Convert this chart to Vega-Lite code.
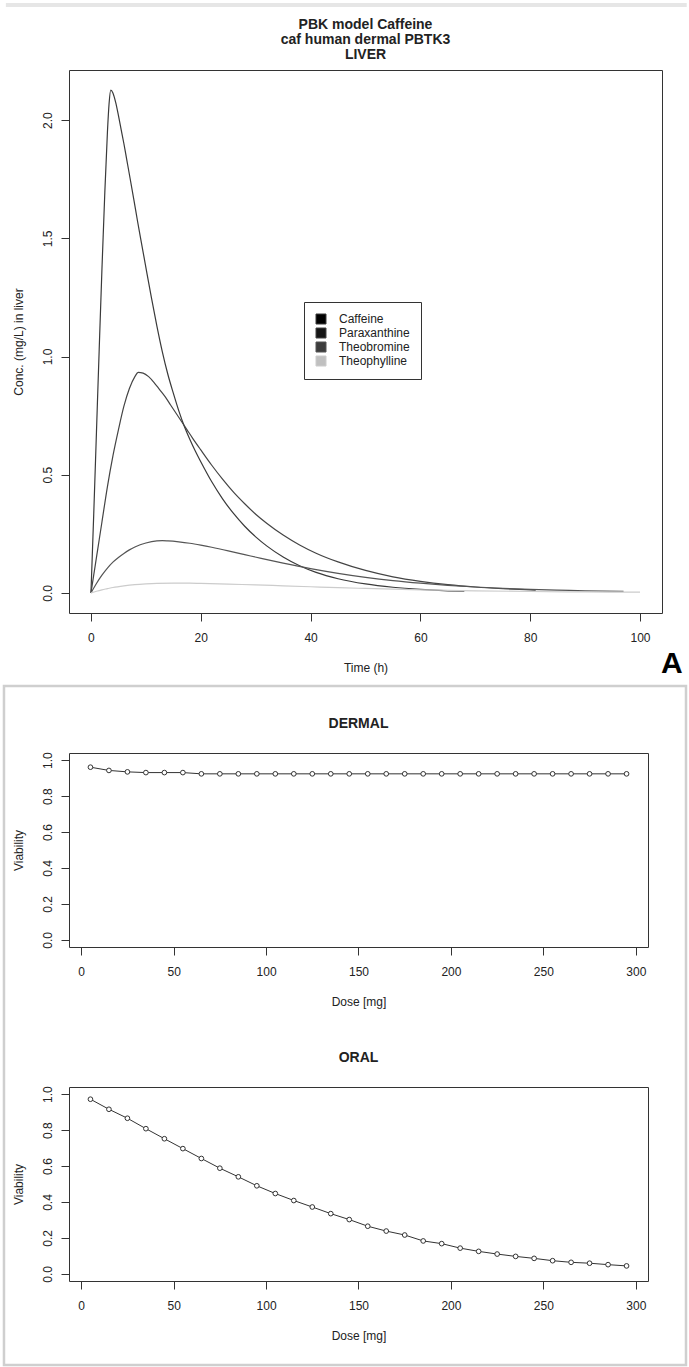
{
  "$schema": "https://vega.github.io/schema/vega-lite/v6.json",
  "padding": {"left": 2, "top": 2, "right": 0, "bottom": 0},
  "background": "white",
  "datasets": {
    "pbk": [
      {"t": 0, "c": 0, "compound": "Caffeine"},
      {"t": 0.5, "c": 0.33, "compound": "Caffeine"},
      {"t": 1, "c": 0.68, "compound": "Caffeine"},
      {"t": 1.5, "c": 1.03, "compound": "Caffeine"},
      {"t": 2, "c": 1.37, "compound": "Caffeine"},
      {"t": 2.5, "c": 1.68, "compound": "Caffeine"},
      {"t": 3, "c": 1.95, "compound": "Caffeine"},
      {"t": 3.3, "c": 2.07, "compound": "Caffeine"},
      {"t": 3.6, "c": 2.127, "compound": "Caffeine"},
      {"t": 4, "c": 2.115, "compound": "Caffeine"},
      {"t": 4.5, "c": 2.075, "compound": "Caffeine"},
      {"t": 5, "c": 2.02, "compound": "Caffeine"},
      {"t": 5.5, "c": 1.96, "compound": "Caffeine"},
      {"t": 6, "c": 1.9, "compound": "Caffeine"},
      {"t": 6.5, "c": 1.835, "compound": "Caffeine"},
      {"t": 7, "c": 1.77, "compound": "Caffeine"},
      {"t": 7.8, "c": 1.665, "compound": "Caffeine"},
      {"t": 8.5, "c": 1.57, "compound": "Caffeine"},
      {"t": 9, "c": 1.505, "compound": "Caffeine"},
      {"t": 9.9, "c": 1.39, "compound": "Caffeine"},
      {"t": 11, "c": 1.25, "compound": "Caffeine"},
      {"t": 12, "c": 1.13, "compound": "Caffeine"},
      {"t": 13, "c": 1.02, "compound": "Caffeine"},
      {"t": 14, "c": 0.925, "compound": "Caffeine"},
      {"t": 15, "c": 0.845, "compound": "Caffeine"},
      {"t": 16, "c": 0.77, "compound": "Caffeine"},
      {"t": 17, "c": 0.705, "compound": "Caffeine"},
      {"t": 18, "c": 0.65, "compound": "Caffeine"},
      {"t": 19, "c": 0.6, "compound": "Caffeine"},
      {"t": 20, "c": 0.555, "compound": "Caffeine"},
      {"t": 22, "c": 0.47, "compound": "Caffeine"},
      {"t": 24, "c": 0.397, "compound": "Caffeine"},
      {"t": 26, "c": 0.335, "compound": "Caffeine"},
      {"t": 28, "c": 0.282, "compound": "Caffeine"},
      {"t": 30, "c": 0.237, "compound": "Caffeine"},
      {"t": 32, "c": 0.199, "compound": "Caffeine"},
      {"t": 35, "c": 0.152, "compound": "Caffeine"},
      {"t": 38, "c": 0.115, "compound": "Caffeine"},
      {"t": 41, "c": 0.087, "compound": "Caffeine"},
      {"t": 45, "c": 0.06, "compound": "Caffeine"},
      {"t": 50, "c": 0.038, "compound": "Caffeine"},
      {"t": 55, "c": 0.024, "compound": "Caffeine"},
      {"t": 60, "c": 0.015, "compound": "Caffeine"},
      {"t": 65, "c": 0.009, "compound": "Caffeine"},
      {"t": 68, "c": 0.007, "compound": "Caffeine"},
      {"t": 0, "c": 0, "compound": "Paraxanthine"},
      {"t": 0.5, "c": 0.075, "compound": "Paraxanthine"},
      {"t": 1, "c": 0.15, "compound": "Paraxanthine"},
      {"t": 1.5, "c": 0.225, "compound": "Paraxanthine"},
      {"t": 2, "c": 0.3, "compound": "Paraxanthine"},
      {"t": 3, "c": 0.45, "compound": "Paraxanthine"},
      {"t": 4, "c": 0.58, "compound": "Paraxanthine"},
      {"t": 5, "c": 0.69, "compound": "Paraxanthine"},
      {"t": 6, "c": 0.79, "compound": "Paraxanthine"},
      {"t": 7, "c": 0.865, "compound": "Paraxanthine"},
      {"t": 8, "c": 0.915, "compound": "Paraxanthine"},
      {"t": 8.6, "c": 0.933, "compound": "Paraxanthine"},
      {"t": 9.5, "c": 0.93, "compound": "Paraxanthine"},
      {"t": 10.5, "c": 0.915, "compound": "Paraxanthine"},
      {"t": 11.5, "c": 0.89, "compound": "Paraxanthine"},
      {"t": 12.5, "c": 0.86, "compound": "Paraxanthine"},
      {"t": 13.5, "c": 0.83, "compound": "Paraxanthine"},
      {"t": 14.5, "c": 0.795, "compound": "Paraxanthine"},
      {"t": 15.5, "c": 0.76, "compound": "Paraxanthine"},
      {"t": 16.5, "c": 0.725, "compound": "Paraxanthine"},
      {"t": 17.5, "c": 0.69, "compound": "Paraxanthine"},
      {"t": 18.5, "c": 0.655, "compound": "Paraxanthine"},
      {"t": 20, "c": 0.605, "compound": "Paraxanthine"},
      {"t": 22, "c": 0.54, "compound": "Paraxanthine"},
      {"t": 24, "c": 0.48, "compound": "Paraxanthine"},
      {"t": 26, "c": 0.425, "compound": "Paraxanthine"},
      {"t": 28, "c": 0.377, "compound": "Paraxanthine"},
      {"t": 30, "c": 0.333, "compound": "Paraxanthine"},
      {"t": 32, "c": 0.295, "compound": "Paraxanthine"},
      {"t": 35, "c": 0.245, "compound": "Paraxanthine"},
      {"t": 38, "c": 0.203, "compound": "Paraxanthine"},
      {"t": 41, "c": 0.168, "compound": "Paraxanthine"},
      {"t": 45, "c": 0.131, "compound": "Paraxanthine"},
      {"t": 50, "c": 0.095, "compound": "Paraxanthine"},
      {"t": 55, "c": 0.068, "compound": "Paraxanthine"},
      {"t": 60, "c": 0.049, "compound": "Paraxanthine"},
      {"t": 65, "c": 0.035, "compound": "Paraxanthine"},
      {"t": 70, "c": 0.025, "compound": "Paraxanthine"},
      {"t": 75, "c": 0.018, "compound": "Paraxanthine"},
      {"t": 81, "c": 0.012, "compound": "Paraxanthine"},
      {"t": 0, "c": 0, "compound": "Theobromine"},
      {"t": 1, "c": 0.04, "compound": "Theobromine"},
      {"t": 2, "c": 0.075, "compound": "Theobromine"},
      {"t": 3, "c": 0.105, "compound": "Theobromine"},
      {"t": 4, "c": 0.13, "compound": "Theobromine"},
      {"t": 5, "c": 0.15, "compound": "Theobromine"},
      {"t": 6, "c": 0.167, "compound": "Theobromine"},
      {"t": 7, "c": 0.182, "compound": "Theobromine"},
      {"t": 8, "c": 0.194, "compound": "Theobromine"},
      {"t": 10, "c": 0.211, "compound": "Theobromine"},
      {"t": 12, "c": 0.22, "compound": "Theobromine"},
      {"t": 13, "c": 0.221, "compound": "Theobromine"},
      {"t": 14, "c": 0.22, "compound": "Theobromine"},
      {"t": 16, "c": 0.216, "compound": "Theobromine"},
      {"t": 18, "c": 0.21, "compound": "Theobromine"},
      {"t": 20, "c": 0.202, "compound": "Theobromine"},
      {"t": 22, "c": 0.193, "compound": "Theobromine"},
      {"t": 25, "c": 0.178, "compound": "Theobromine"},
      {"t": 28, "c": 0.162, "compound": "Theobromine"},
      {"t": 31, "c": 0.146, "compound": "Theobromine"},
      {"t": 35, "c": 0.126, "compound": "Theobromine"},
      {"t": 40, "c": 0.103, "compound": "Theobromine"},
      {"t": 45, "c": 0.083, "compound": "Theobromine"},
      {"t": 50, "c": 0.066, "compound": "Theobromine"},
      {"t": 55, "c": 0.052, "compound": "Theobromine"},
      {"t": 60, "c": 0.041, "compound": "Theobromine"},
      {"t": 65, "c": 0.032, "compound": "Theobromine"},
      {"t": 70, "c": 0.025, "compound": "Theobromine"},
      {"t": 75, "c": 0.019, "compound": "Theobromine"},
      {"t": 80, "c": 0.015, "compound": "Theobromine"},
      {"t": 85, "c": 0.012, "compound": "Theobromine"},
      {"t": 90, "c": 0.009, "compound": "Theobromine"},
      {"t": 97, "c": 0.007, "compound": "Theobromine"},
      {"t": 0, "c": 0, "compound": "Theophylline"},
      {"t": 1, "c": 0.007, "compound": "Theophylline"},
      {"t": 2, "c": 0.013, "compound": "Theophylline"},
      {"t": 3, "c": 0.018, "compound": "Theophylline"},
      {"t": 4, "c": 0.023, "compound": "Theophylline"},
      {"t": 6, "c": 0.03, "compound": "Theophylline"},
      {"t": 8, "c": 0.035, "compound": "Theophylline"},
      {"t": 10, "c": 0.038, "compound": "Theophylline"},
      {"t": 12, "c": 0.04, "compound": "Theophylline"},
      {"t": 15, "c": 0.041, "compound": "Theophylline"},
      {"t": 18, "c": 0.041, "compound": "Theophylline"},
      {"t": 20, "c": 0.04, "compound": "Theophylline"},
      {"t": 25, "c": 0.037, "compound": "Theophylline"},
      {"t": 30, "c": 0.034, "compound": "Theophylline"},
      {"t": 35, "c": 0.03, "compound": "Theophylline"},
      {"t": 40, "c": 0.026, "compound": "Theophylline"},
      {"t": 45, "c": 0.022, "compound": "Theophylline"},
      {"t": 50, "c": 0.019, "compound": "Theophylline"},
      {"t": 55, "c": 0.016, "compound": "Theophylline"},
      {"t": 60, "c": 0.013, "compound": "Theophylline"},
      {"t": 65, "c": 0.011, "compound": "Theophylline"},
      {"t": 70, "c": 0.009, "compound": "Theophylline"},
      {"t": 80, "c": 0.006, "compound": "Theophylline"},
      {"t": 90, "c": 0.004, "compound": "Theophylline"},
      {"t": 100, "c": 0.003, "compound": "Theophylline"}
    ],
    "dermal": [
      {"dose": 5, "viability": 0.961}, {"dose": 15, "viability": 0.943}, {"dose": 25, "viability": 0.935},
      {"dose": 35, "viability": 0.931}, {"dose": 45, "viability": 0.931}, {"dose": 55, "viability": 0.931},
      {"dose": 65, "viability": 0.924}, {"dose": 75, "viability": 0.924}, {"dose": 85, "viability": 0.924},
      {"dose": 95, "viability": 0.924}, {"dose": 105, "viability": 0.924}, {"dose": 115, "viability": 0.924},
      {"dose": 125, "viability": 0.924}, {"dose": 135, "viability": 0.924}, {"dose": 145, "viability": 0.924},
      {"dose": 155, "viability": 0.924}, {"dose": 165, "viability": 0.924}, {"dose": 175, "viability": 0.924},
      {"dose": 185, "viability": 0.924}, {"dose": 195, "viability": 0.924}, {"dose": 205, "viability": 0.924},
      {"dose": 215, "viability": 0.924}, {"dose": 225, "viability": 0.924}, {"dose": 235, "viability": 0.924},
      {"dose": 245, "viability": 0.924}, {"dose": 255, "viability": 0.924}, {"dose": 265, "viability": 0.924},
      {"dose": 275, "viability": 0.924}, {"dose": 285, "viability": 0.924}, {"dose": 295, "viability": 0.924}
    ],
    "oral": [
      {"dose": 5, "viability": 0.972}, {"dose": 15, "viability": 0.916}, {"dose": 25, "viability": 0.866},
      {"dose": 35, "viability": 0.808}, {"dose": 45, "viability": 0.752}, {"dose": 55, "viability": 0.697},
      {"dose": 65, "viability": 0.642}, {"dose": 75, "viability": 0.588}, {"dose": 85, "viability": 0.54},
      {"dose": 95, "viability": 0.49}, {"dose": 105, "viability": 0.447}, {"dose": 115, "viability": 0.408},
      {"dose": 125, "viability": 0.372}, {"dose": 135, "viability": 0.335}, {"dose": 145, "viability": 0.302},
      {"dose": 155, "viability": 0.265}, {"dose": 165, "viability": 0.238}, {"dose": 175, "viability": 0.216},
      {"dose": 185, "viability": 0.183}, {"dose": 195, "viability": 0.168}, {"dose": 205, "viability": 0.143},
      {"dose": 215, "viability": 0.125}, {"dose": 225, "viability": 0.11}, {"dose": 235, "viability": 0.097},
      {"dose": 245, "viability": 0.086}, {"dose": 255, "viability": 0.073}, {"dose": 265, "viability": 0.064},
      {"dose": 275, "viability": 0.059}, {"dose": 285, "viability": 0.051}, {"dose": 295, "viability": 0.044}
    ]
  },
  "vconcat": [
    {
      "width": 593,
      "height": 543,
      "layer": [
        {
          "data": {"name": "pbk"},
          "mark": {"type": "line", "strokeWidth": 1.2, "interpolate": "monotone"},
          "encoding": {
            "x": {"field": "t", "type": "quantitative",
                  "scale": {"domain": [-4, 104], "nice": false, "zero": false},
                  "axis": {"values": [0, 20, 40, 60, 80, 100], "title": "Time (h)", "labelOverlap": false}},
            "y": {"field": "c", "type": "quantitative",
                  "scale": {"domain": [-0.085, 2.212], "nice": false, "zero": false},
                  "axis": {"values": [0, 0.5, 1, 1.5, 2], "format": ".1f", "title": "Conc. (mg/L) in liver", "labelOverlap": false}},
            "color": {"field": "compound", "type": "nominal",
                      "scale": {"domain": ["Caffeine", "Paraxanthine", "Theobromine", "Theophylline"],
                                "range": ["#3a3a3a", "#444444", "#555555", "#cccccc"]},
                      "legend": {"title": null, "orient": "none", "legendX": 235, "legendY": 232,
                                 "symbolType": "square", "symbolSize": 100, "padding": 11, "rowPadding": 0,
                                 "labelOffset": 12, "labelFontSize": 12, "labelFont": "Liberation Sans",
                                 "labelColor": "#222", "strokeColor": "#333", "fillColor": "white",
                                 "encode": {"symbols": {"update": {
                                   "fill": [
                                     {"test": "datum.value === 'Caffeine'", "value": "#000000"},
                                     {"test": "datum.value === 'Paraxanthine'", "value": "#151515"},
                                     {"test": "datum.value === 'Theobromine'", "value": "#3c3c3c"},
                                     {"value": "#c0c0c0"}],
                                   "stroke": {"value": "#000"},
                                   "strokeWidth": {"value": 1},
                                   "opacity": {"value": 1}}}}}}
          }
        },
        {
          "data": {"values": [{}]},
          "mark": {"type": "text", "fontSize": 14, "fontWeight": "bold", "font": "Liberation Sans", "color": "#222", "align": "center", "baseline": "top", "lineHeight": 15, "clip": false},
          "encoding": {"x": {"datum": 50}, "y": {"datum": 2.432},
                       "text": {"value": ["PBK model Caffeine", "caf human dermal PBTK3", "LIVER"]}}
        },
        {
          "data": {"values": [{}]},
          "mark": {"type": "rule", "stroke": "#e6e6e6", "strokeWidth": 4, "clip": false},
          "encoding": {"x": {"datum": -15.5}, "x2": {"datum": 108.5}, "y": {"datum": 2.487}}
        },
        {
          "data": {"values": [{}]},
          "mark": {"type": "rect", "filled": false, "stroke": "#cfcfcf", "strokeWidth": 2.5, "clip": false},
          "encoding": {"x": {"datum": -15.84}, "x2": {"datum": 108.37}, "y": {"datum": -0.394}, "y2": {"datum": -3.2665}}
        },
        {
          "data": {"values": [{}]},
          "mark": {"type": "text", "fontSize": 30, "fontWeight": "bold", "font": "Liberation Sans", "color": "#000", "align": "center", "baseline": "middle", "clip": false},
          "encoding": {"x": {"datum": 105.8}, "y": {"datum": -0.3}, "text": {"value": "A"}}
        }
      ]
    },
    {
      "title": {"text": "DERMAL", "offset": 21},
      "width": 579,
      "height": 194,
      "data": {"name": "dermal"},
      "encoding": {
        "x": {"field": "dose", "type": "quantitative",
              "scale": {"domain": [-6.6, 306.6], "nice": false, "zero": false},
              "axis": {"values": [0, 50, 100, 150, 200, 250, 300], "title": "Dose [mg]", "labelOverlap": false}},
        "y": {"field": "viability", "type": "quantitative",
              "scale": {"domain": [-0.04, 1.04], "nice": false, "zero": false},
              "axis": {"values": [0, 0.2, 0.4, 0.6, 0.8, 1], "format": ".1f", "title": "Viability", "labelOverlap": false}}
      },
      "layer": [
        {"mark": {"type": "line", "color": "#333", "strokeWidth": 1}},
        {"mark": {"type": "point", "shape": "circle", "filled": true, "fill": "white", "stroke": "#333", "strokeWidth": 1, "size": 22, "opacity": 1}}
      ]
    },
    {
      "title": {"text": "ORAL", "offset": 21},
      "width": 579,
      "height": 194,
      "data": {"name": "oral"},
      "encoding": {
        "x": {"field": "dose", "type": "quantitative",
              "scale": {"domain": [-6.6, 306.6], "nice": false, "zero": false},
              "axis": {"values": [0, 50, 100, 150, 200, 250, 300], "title": "Dose [mg]", "labelOverlap": false}},
        "y": {"field": "viability", "type": "quantitative",
              "scale": {"domain": [-0.04, 1.04], "nice": false, "zero": false},
              "axis": {"values": [0, 0.2, 0.4, 0.6, 0.8, 1], "format": ".1f", "title": "Viability", "labelOverlap": false}}
      },
      "layer": [
        {"mark": {"type": "line", "color": "#333", "strokeWidth": 1}},
        {"mark": {"type": "point", "shape": "circle", "filled": true, "fill": "white", "stroke": "#333", "strokeWidth": 1, "size": 22, "opacity": 1}},
        {
          "data": {"values": [{}]},
          "mark": {"type": "text", "fontSize": 30, "fontWeight": "bold", "font": "Liberation Sans", "color": "#000", "align": "center", "baseline": "middle", "clip": false},
          "encoding": {"x": {"datum": 319.0}, "y": {"datum": -0.391}, "text": {"value": "B"}}
        }
      ]
    }
  ],
  "spacing": 140,
  "bounds": "flush",
  "config": {
    "font": "Liberation Sans",
    "view": {"stroke": "#333", "strokeWidth": 1},
    "title": {"font": "Liberation Sans", "fontSize": 14, "fontWeight": "bold", "color": "#222",
              "anchor": "middle", "frame": "group", "baseline": "bottom", "lineHeight": 15},
    "axis": {"domain": false, "grid": false, "tickColor": "#333", "tickSize": 8, "tickWidth": 1,
             "labelFont": "Liberation Sans", "labelFontSize": 12, "labelColor": "#222", "labelOverlap": false,
             "titleFont": "Liberation Sans", "titleFontSize": 12, "titleFontWeight": "normal", "titleColor": "#222"},
    "axisX": {"labelPadding": 11, "titlePadding": 19, "labelFlush": false},
    "axisY": {"labelAngle": -90, "labelAlign": "center", "labelBaseline": "bottom", "labelPadding": 7,
              "titleAngle": -90, "titleAlign": "center", "titleBaseline": "bottom", "titlePadding": 16}
  }
}
